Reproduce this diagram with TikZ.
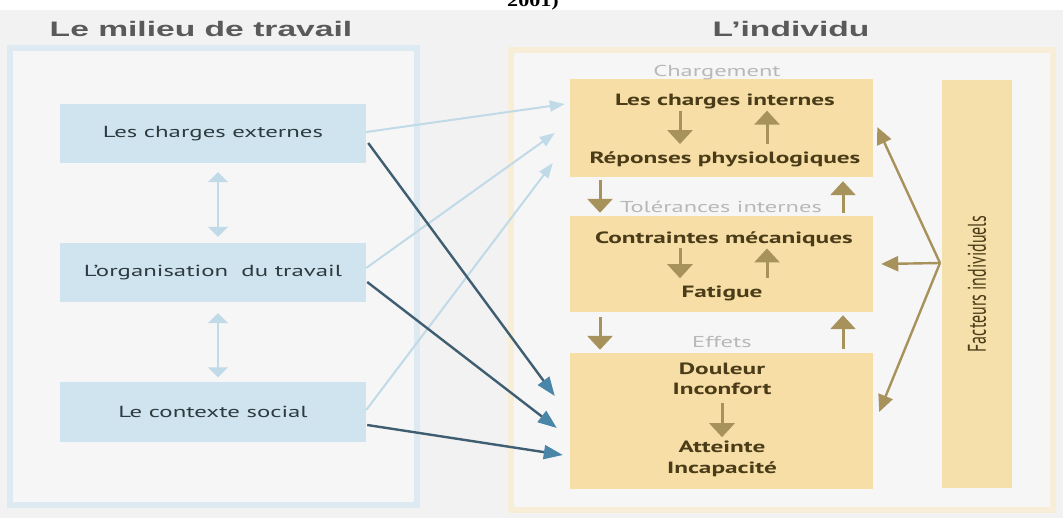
\documentclass[tikz,border=0pt]{standalone}
\usepackage{fontspec}
\setmainfont{PT Sans}[FakeStretch=1.55]
\newfontfamily\titlefont{Liberation Sans}[FakeStretch=1.6]
\newfontfamily\yearfont{Liberation Serif}[FakeStretch=1.3]
\newfontfamily\plainfont{PT Sans}
\usetikzlibrary{arrows.meta}
\definecolor{bggray}{HTML}{F2F2F2}
\definecolor{panelin}{HTML}{F6F6F6}
\definecolor{panelblue}{HTML}{DDEAF1}
\definecolor{panelbeige}{HTML}{F8EDD6}
\definecolor{boxblue}{HTML}{CFE4EE}
\definecolor{boxor}{HTML}{F6DEA6}
\definecolor{boxfi}{HTML}{F5DFAA}
\definecolor{lightarrow}{HTML}{C0DAE8}
\definecolor{darkline}{HTML}{3F5E72}
\definecolor{darktip}{HTML}{4A86A8}
\definecolor{brownar}{HTML}{A8925C}
\definecolor{lblgray}{HTML}{B8B8B8}
\definecolor{lefttxt}{HTML}{2E3A40}
\definecolor{intxt}{HTML}{4A3C18}
\definecolor{titlegray}{HTML}{5A5A5A}
\begin{document}
\begin{tikzpicture}[x=1pt,y=-1pt,
  titlestyle/.style={font=\titlefont\bfseries\fontsize{21}{24}\selectfont, text=titlegray, inner sep=0pt},
  bluebox/.style={fill=boxblue, minimum width=306pt, minimum height=59pt, inner sep=0pt,
     font=\fontsize{16}{19}\selectfont, text=lefttxt},
  orbox/.style={fill=boxor, inner sep=0pt, minimum width=303pt},
  intext/.style={font=\bfseries\fontsize{16.3}{19}\selectfont, text=intxt, inner sep=0pt, anchor=base},
  lbl/.style={font=\fontsize{15.8}{18}\selectfont, text=lblgray, inner sep=0pt, anchor=base},
  dblar/.style={draw=lightarrow, line width=2pt, {Triangle[width=20pt,length=10pt]}-{Triangle[width=20pt,length=10pt]}},
  lightar/.style={draw=lightarrow, line width=2pt, -{Triangle[width=11pt,length=15pt]}},
  darkar/.style={draw=darkline, line width=2.4pt, -{Triangle[width=14pt,length=19pt,fill=darktip,color=darktip]}},
  brar/.style={draw=brownar, line width=3pt, -{Triangle[width=25pt,length=14pt]}},
  hubar/.style={draw=brownar, line width=2.4pt, -{Triangle[width=15pt,length=17pt]}}
]
\useasboundingbox (0,0) rectangle (1063,518);
\fill[white] (0,0) rectangle (1063,518);
\fill[bggray] (0,10) rectangle (1063,518);
\node[anchor=base, font=\yearfont\bfseries\fontsize{17}{20}\selectfont, inner sep=0pt] (year) at (533,7) {2001)};

% panels
\draw[line width=6pt, draw=panelblue, fill=panelin] (10,48) rectangle (417,505);
\draw[line width=6pt, draw=panelbeige, fill=panelin] (511,50) rectangle (1053,510);

% titles
\node[titlestyle, anchor=base] (tl) at (201,37) {Le milieu de travail};
\node[titlestyle, anchor=base] (tr) at (791,37) {L’individu};

% left boxes
\node[bluebox] (b1) at (213,133.5) {Les charges externes};
\node[bluebox] (b2) at (213,272.5) {L’organisation\ \ du travail};
\node[bluebox] (b3) at (213,412) {Le contexte social};

\draw[dblar] ([xshift=5pt,yshift=-9pt]b1.south) -- ([xshift=5pt,yshift=6pt]b2.north);
\draw[dblar] ([xshift=5pt,yshift=-11pt]b2.south) -- ([xshift=5pt,yshift=5pt]b3.north);

% right boxes
\node[orbox, minimum height=98pt] (r1) at (721.5,128) {};
\node[orbox, minimum height=96pt] (r2) at (721.5,264) {};
\node[orbox, minimum height=136pt] (r3) at (721.5,421) {};
\node[fill=boxfi, inner sep=0pt, minimum width=70pt, minimum height=408pt] (fi) at (977,284) {};
\node[rotate=90, font=\plainfont\fontsize{16}{19}\selectfont, text=intxt, inner sep=0pt] (fit) at (fi.center) {\scalebox{1}[1.6]{Facteurs individuels}};

% texts in right boxes
\node[lbl] (l1) at (717,77) {Chargement};
\node[intext] (t1) at (725,106) {Les charges internes};
\node[intext] (t2) at (725,164) {Réponses physiologiques};
\node[lbl] (l2) at (721,213) {Tolérances internes};
\node[intext] (t3) at (724,244) {Contraintes mécaniques};
\node[intext] (t4) at (722,298) {Fatigue};
\node[lbl] (l3) at (722,348) {Effets};
\node[intext] (t5) at (722,375) {Douleur};
\node[intext] (t6) at (722,395) {Inconfort};
\node[intext] (t7) at (722,453) {Atteinte};
\node[intext] (t8) at (722,473) {Incapacité};

\coordinate (xa) at (680,0);
\coordinate (xb) at (767,0);
\coordinate (xc) at (600,0);
\coordinate (xd) at (843,0);
\coordinate (xe) at (722,0);

% brown arrows in boxes
\draw[brar] ([yshift=-1pt]t1.south -| xa) -- ([yshift=8pt]t2.north -| xa);
\draw[brar] ([yshift=8pt]t2.north -| xb) -- ([yshift=-1pt]t1.south -| xb);
\draw[brar] ([yshift=-1pt]t3.south -| xa) -- ([yshift=8pt]t4.north -| xa);
\draw[brar] ([yshift=8pt]t4.north -| xb) -- ([yshift=-1pt]t3.south -| xb);
\draw[brar] ([yshift=-8pt]t6.south -| xe) -- ([yshift=4pt]t7.north -| xe);

% brown arrows between boxes
\draw[brar] ([yshift=-3pt]r1.south -| xc) -- ([yshift=3pt]r2.north -| xc);
\draw[brar] ([yshift=3pt]r2.north -| xd) -- ([yshift=-4pt]r1.south -| xd);
\draw[brar] ([yshift=-5pt]r2.south -| xc) -- ([yshift=3pt]r3.north -| xc);
\draw[brar] ([yshift=4pt]r3.north -| xd) -- ([yshift=-3pt]r2.south -| xd);

% facteurs individuels arrows
\coordinate (hub) at (940,263);
\draw[hubar] (hub) -- ([xshift=4pt,yshift=1pt]r1.east);
\draw[hubar] (hub) -- ([xshift=8pt]r2.east);
\draw[hubar] (hub) -- ([xshift=6pt,yshift=9pt]r3.east);

% light blue arrows
\draw[lightar] ([yshift=1.5pt]b1.east) -- ([xshift=-5pt,yshift=24pt]r1.west);
\draw[lightar] ([yshift=4.5pt]b2.east) -- ([xshift=-15pt,yshift=-5pt]r1.west);
\draw[lightar] ([yshift=2pt]b3.east) -- ([xshift=-17pt,yshift=-35pt]r1.west);

% dark arrows
\draw[darkar] ([xshift=2pt,yshift=-9.5pt]b1.east) -- ([xshift=-15pt,yshift=25pt]r3.west);
\draw[darkar] ([xshift=1pt,yshift=-9.5pt]b2.east) -- ([xshift=-13pt,yshift=-7pt]r3.west);
\draw[darkar] ([xshift=1pt,yshift=-13pt]b3.east) -- ([xshift=-7pt,yshift=-34pt]r3.west);
\end{tikzpicture}
\end{document}
